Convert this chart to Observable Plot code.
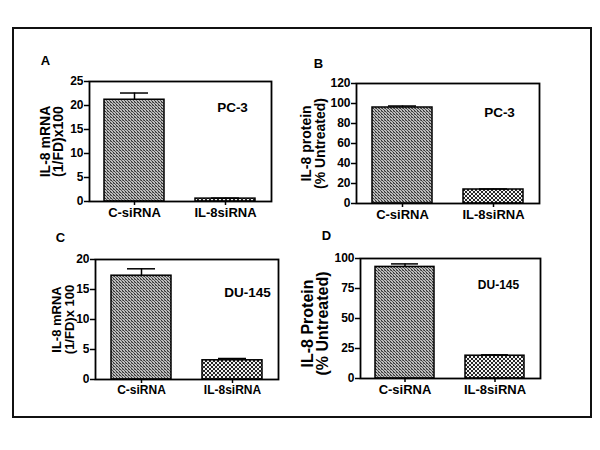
<!DOCTYPE html>
<html><head><meta charset="utf-8">
<script src="https://cdn.jsdelivr.net/npm/d3@7"></script>
<script src="https://cdn.jsdelivr.net/npm/@observablehq/plot@0.6"></script>
<style>
body{margin:0;background:#fff;width:600px;height:450px;position:relative;overflow:hidden;font-family:"Liberation Sans",Arial,sans-serif;}
#border{position:absolute;left:12px;top:27px;width:576px;height:387px;border:2px solid #111;}
.panel{position:absolute;}
.panel svg{overflow:visible;background:transparent;}
</style></head><body>
<div id="border"></div>
<div id="root"></div>
<script>
// ---- data ----
const categories = ["C-siRNA", "IL-8siRNA"];
const mrnaPC3 = [21.2, 0.6];
const mrnaPC3Err = [22.6, 0.7];
const proteinPC3 = [96, 14];
const proteinPC3Err = [97.5, 14.5];
const mrnaDU145 = [17.3, 3.2];
const mrnaDU145Err = [18.45, 3.5];
const proteinDU145 = [93, 19];
const proteinDU145Err = [95.5, 19.7];
const panelLetters = ["A", "B", "C", "D"];
const cellLines = ["PC-3", "PC-3", "DU-145", "DU-145"];
const yLabels = ["IL-8 mRNA\n(1/FD)x100", "IL-8 protein\n(% Untreated)", "IL-8 mRNA\n(1/FD)x 100", "IL-8 Protein\n(% Untreated)"];
const yDomains = [[0, 25], [0, 120], [0, 20], [0, 100]];
const yTicks = [[0, 5, 10, 15, 20, 25], [0, 20, 40, 60, 80, 100, 120], [0, 5, 10, 15, 20], [0, 25, 50, 75, 100]];
const seriesValues = [mrnaPC3, proteinPC3, mrnaDU145, proteinDU145];
const seriesErrors = [mrnaPC3Err, proteinPC3Err, mrnaDU145Err, proteinDU145Err];

// ---- layout (positions & styles) ----
const layout = [
  {left: 15, top: 45, ml: 74, mr: 24, mt: 36, mb: 29, letter: [-44, -21], cell: [143, 26], cellSize: 13.5,
   ylab: -37, ylabDy: 0, ylabSize: 14, ylabLH: 0.95, tickSize: 12, xSize: 13},
  {left: 295, top: 45, ml: 61, mr: 36, mt: 38, mb: 27, letter: [-38, -20], cell: [143, 29], cellSize: 13.5,
   ylab: -43, ylabDy: 0, ylabSize: 14, ylabLH: 1.0, tickSize: 12, xSize: 13},
  {left: 15, top: 222, ml: 80, mr: 17, mt: 37, mb: 28, letter: [-35, -22], cell: [152, 33], cellSize: 13.5,
   ylab: -32, ylabDy: 0, ylabSize: 13, ylabLH: 0.95, tickSize: 12, xSize: 12},
  {left: 295, top: 222, ml: 65, mr: 35, mt: 36, mb: 29, letter: [-34, -23], cell: [138, 27], cellSize: 12,
   ylab: -45, ylabDy: 5, ylabSize: 16, ylabLH: 0.95, tickSize: 12, xSize: 13}
];
const W = 280, H = 185;
const font = '"Liberation Sans", Arial, sans-serif';

function patterns(i) {
  return `<pattern id="fine${i}" width="3" height="3" patternUnits="userSpaceOnUse">
    <rect width="3" height="3" fill="#bdbdbd"/>
    <rect x="0" y="0" width="1" height="1" fill="#333"/>
    <rect x="1" y="1" width="1" height="1" fill="#555"/>
    <rect x="2" y="2" width="1" height="1" fill="#333"/>
    <rect x="2" y="0" width="1" height="1" fill="#707070"/>
  </pattern>
  <pattern id="coarse${i}" width="4" height="4" patternUnits="userSpaceOnUse">
    <rect width="4" height="4" fill="#f2f2f2"/>
    <rect x="0" y="0" width="2" height="2" fill="#262626"/>
    <rect x="2" y="2" width="2" height="2" fill="#262626"/>
  </pattern>`;
}

const root = document.getElementById("root");
for (let i = 0; i < 4; i++) {
  const L = layout[i];
  const data = categories.map((c, j) => ({cat: c, v: seriesValues[i][j], e: seriesErrors[i][j]}));
  const svg = Plot.plot({
    width: W, height: H,
    marginLeft: L.ml, marginRight: L.mr, marginTop: L.mt, marginBottom: L.mb,
    style: {fontFamily: font, fontWeight: "bold", color: "#000", background: "transparent", overflow: "visible"},
    x: {domain: categories, paddingInner: 0.34, paddingOuter: 0.17},
    y: {domain: yDomains[i]},
    marks: [
      Plot.barY(data.filter(d => d.cat === categories[0]), {x: "cat", y: "v", fill: `url(#fine${i})`, stroke: "#000", strokeWidth: 1.5}),
      Plot.barY(data.filter(d => d.cat === categories[1]), {x: "cat", y: "v", fill: `url(#coarse${i})`, stroke: "#000", strokeWidth: 1.5}),
      Plot.ruleX(data, {x: "cat", y1: "v", y2: "e", stroke: "#000", strokeWidth: 1.5}),
      Plot.tickY(data, {x: "cat", y: "e", inset: 16, stroke: "#000", strokeWidth: 1.5}),
      Plot.frame({stroke: "#000", strokeWidth: 1.8}),
      Plot.axisY({ticks: yTicks[i], tickSize: 5, tickPadding: 1, strokeWidth: 1.5, fontSize: L.tickSize, label: null}),
      Plot.axisX({tickSize: 4, tickPadding: 2, strokeWidth: 1.5, fontSize: L.xSize, label: null}),
      Plot.text([panelLetters[i]], {text: d => d, frameAnchor: "top-left", lineAnchor: "middle", dx: L.letter[0], dy: L.letter[1], fontSize: 13, fontWeight: "bold", textAnchor: "middle", fill: "#000"}),
      Plot.text([cellLines[i]], {text: d => d, frameAnchor: "top-left", lineAnchor: "middle", dx: L.cell[0], dy: L.cell[1], fontSize: L.cellSize, fontWeight: "bold", textAnchor: "middle", fill: "#000"}),
      Plot.text([yLabels[i]], {text: d => d, frameAnchor: "left", rotate: -90, dx: L.ylab, dy: L.ylabDy, fontSize: L.ylabSize, fontWeight: "bold", lineHeight: L.ylabLH, textAnchor: "middle", lineAnchor: "middle", fill: "#000"})
    ]
  });
  d3.select(svg).insert("defs", ":first-child").html(patterns(i));
  const div = document.createElement("div");
  div.className = "panel";
  div.style.left = L.left + "px";
  div.style.top = L.top + "px";
  div.style.width = W + "px";
  div.style.height = H + "px";
  div.appendChild(svg);
  root.appendChild(div);
}
</script>
</body></html>
